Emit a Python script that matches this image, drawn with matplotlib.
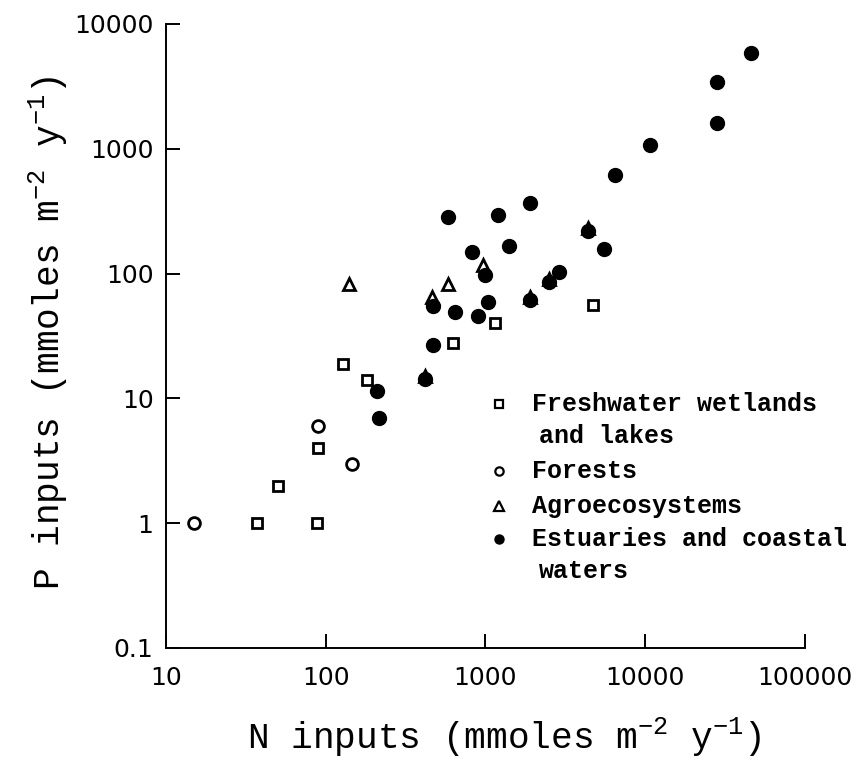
import matplotlib
matplotlib.use("Agg")
import matplotlib.pyplot as plt
from matplotlib.lines import Line2D

plt.rcParams['mathtext.fontset'] = 'custom'
plt.rcParams['mathtext.rm'] = 'Liberation Mono'
plt.rcParams['mathtext.default'] = 'regular'

# N and P inputs (mmoles m-2 y-1)
fresh_n = [37, 88, 50, 90, 128, 180, 630, 1140, 4700]
fresh_p = [1, 1, 2, 4, 19, 14, 28, 40, 56]

forest_n = [15, 90, 145]
forest_p = [1, 6, 3]

agro_n = [140, 580, 460, 970, 420, 1900, 2500, 4400]
agro_p = [82, 82, 65, 117, 15.2, 65, 91, 233]

estu_n = [210, 215, 420, 470, 470, 580, 640, 820, 900, 1000, 1030, 1200,
          1400, 1900, 1900, 2500, 2900, 4400, 5500, 6500, 10700, 28000,
          28000, 46000]
estu_p = [11.5, 7, 14.3, 55, 27, 285, 49, 150, 46, 98, 59, 295,
          165, 61, 370, 86, 103, 220, 158, 620, 1080, 1600,
          3400, 5900]

x_ticks = [10, 100, 1000, 10000, 100000]
x_labels = ['10', '100', '1000', '10000', '100000']
y_ticks = [0.1, 1, 10, 100, 1000, 10000]
y_labels = ['0.1', '1', '10', '100', '1000', '10000']

legend_labels = ['Freshwater wetlands\nand lakes', 'Forests', 'Agroecosystems',
                 'Estuaries and coastal\nwaters']

fig = plt.figure(figsize=(8.58, 7.61), dpi=100)
ax = fig.add_axes([0.1935, 0.1485, 0.7447, 0.82])

ax.plot(fresh_n, fresh_p, ls='none', marker='s', ms=7.5, mfc='white', mec='black', mew=2, zorder=3)
ax.plot(forest_n, forest_p, ls='none', marker='o', ms=8.5, mfc='white', mec='black', mew=2, zorder=3)
ax.plot(agro_n, agro_p, ls='none', marker='^', ms=9, mfc='white', mec='black', mew=2, zorder=2)
ax.plot(estu_n, estu_p, ls='none', marker='o', ms=10, mfc='black', mec='black', zorder=4)

ax.set_xscale('log')
ax.set_yscale('log')
ax.set_xlim(10, 100000)
ax.set_ylim(0.1, 10000)
ax.set_xticks(x_ticks)
ax.set_xticklabels(x_labels)
ax.set_yticks(y_ticks)
ax.set_yticklabels(y_labels)
ax.minorticks_off()

for s in ['top', 'right']:
    ax.spines[s].set_visible(False)
for s in ['left', 'bottom']:
    ax.spines[s].set_linewidth(1.4)

ax.tick_params(axis='both', direction='in', length=10, width=1.4, labelsize=18)
ax.tick_params(axis='y', pad=9)
ax.tick_params(axis='x', pad=13)

lab_font = dict(family='Liberation Mono', size=26)
ax.set_xlabel(r'N inputs (mmoles m$^{-2}$ y$^{-1}$)', **lab_font)
ax.set_ylabel(r'P inputs (mmoles m$^{-2}$ y$^{-1}$)', **lab_font)
ax.xaxis.set_label_coords(0.53, -0.108)
ax.yaxis.set_label_coords(-0.15, 0.505)

# legend drawn by hand so the marker sits on the first line
leg_styles = [
    dict(marker='s', ms=5.5, mfc='white', mec='black', mew=1.6),
    dict(marker='o', ms=6, mfc='white', mec='black', mew=1.6),
    dict(marker='^', ms=6.5, mfc='white', mec='black', mew=1.6),
    dict(marker='o', ms=6.5, mfc='black', mec='black'),
]
leg_y = [0.391, 0.284, 0.228, 0.175]
line_h = 0.052
for lab, st, yy in zip(legend_labels, leg_styles, leg_y):
    ax.add_line(Line2D([0.521], [yy], transform=ax.transAxes, ls='none', clip_on=False, **st))
    lines = lab.split('\n')
    for i, ln in enumerate(lines):
        xx = 0.573 if i == 0 else 0.584
        ax.text(xx, yy - i * line_h, ln, transform=ax.transAxes, ha='left', va='center',
                family='Liberation Mono', size=18, fontweight='bold')

fig.savefig('out.png', dpi=100)
